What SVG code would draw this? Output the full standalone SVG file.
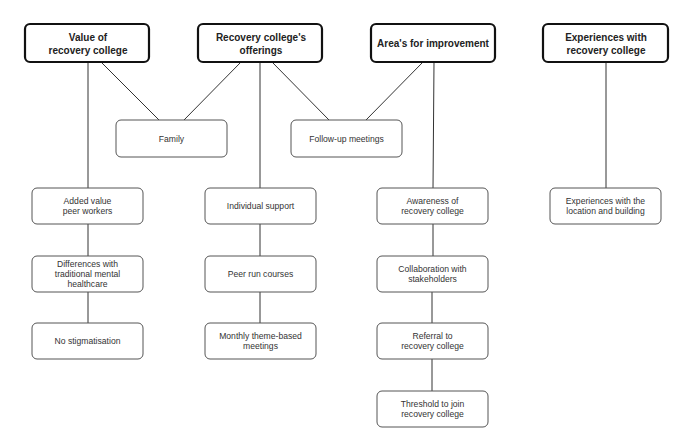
<svg xmlns="http://www.w3.org/2000/svg" width="685" height="437" viewBox="0 0 685 437">
<style>
.h rect{fill:#fff;stroke:#111;stroke-width:2.2}
.n rect{fill:#fff;stroke:#555;stroke-width:1}
.h text{font-family:"Liberation Sans",Arial,sans-serif;font-size:10px;font-weight:bold;fill:#222;text-anchor:middle}
.n text{font-family:"Liberation Sans",Arial,sans-serif;font-size:8.6px;fill:#333;text-anchor:middle}
#edges line{stroke:#333;stroke-width:1}
</style>
<rect width="685" height="437" fill="#fff"/>
<g id="edges">
<line x1="88" y1="62" x2="88" y2="188"/>
<line x1="88" y1="224" x2="88" y2="256"/>
<line x1="88" y1="292" x2="88" y2="323"/>
<line x1="101" y1="62" x2="159" y2="120"/>
<line x1="241" y1="62" x2="184" y2="120"/>
<line x1="260" y1="62" x2="260" y2="188"/>
<line x1="260" y1="224" x2="260" y2="256"/>
<line x1="260" y1="292" x2="260" y2="323"/>
<line x1="272" y1="62" x2="329" y2="120"/>
<line x1="423" y1="62" x2="366" y2="120"/>
<line x1="434" y1="62" x2="433" y2="188"/>
<line x1="433" y1="224" x2="433" y2="256"/>
<line x1="432" y1="292" x2="432" y2="323"/>
<line x1="432" y1="359" x2="432" y2="391"/>
<line x1="606" y1="62" x2="606" y2="188"/>
</g>
<g id="h1" class="h"><rect x="25" y="24" width="124" height="38" rx="5"/><text x="88" y="40.5">Value of</text><text x="88" y="53.5">recovery college</text></g>
<g id="h2" class="h"><rect x="198" y="24" width="124" height="38" rx="5"/><text x="261" y="40.5">Recovery college's</text><text x="261" y="53.5">offerings</text></g>
<g id="h3" class="h"><rect x="371" y="24" width="124" height="38" rx="5"/><text x="433" y="46.5">Area's for improvement</text></g>
<g id="h4" class="h"><rect x="543" y="24" width="125" height="38" rx="5"/><text x="606" y="40.5">Experiences with</text><text x="606" y="53.5">recovery college</text></g>
<g id="family" class="n"><rect x="116" y="120" width="111" height="37" rx="5"/><text x="171.5" y="141.5">Family</text></g>
<g id="followup" class="n"><rect x="291" y="120" width="111" height="37" rx="5"/><text x="346.5" y="141.5">Follow-up meetings</text></g>
<g id="a1" class="n"><rect x="32" y="188" width="111" height="36" rx="5"/><text x="87.5" y="204">Added value</text><text x="87.5" y="214">peer workers</text></g>
<g id="a2" class="n"><rect x="32" y="256" width="111" height="36" rx="5"/><text x="87.5" y="267">Differences with</text><text x="87.5" y="277">traditional mental</text><text x="87.5" y="287">healthcare</text></g>
<g id="a3" class="n"><rect x="32" y="323" width="111" height="36" rx="5"/><text x="87.5" y="344">No stigmatisation</text></g>
<g id="b1" class="n"><rect x="205" y="188" width="111" height="36" rx="5"/><text x="260.5" y="209">Individual support</text></g>
<g id="b2" class="n"><rect x="205" y="256" width="111" height="36" rx="5"/><text x="260.5" y="277">Peer run courses</text></g>
<g id="b3" class="n"><rect x="205" y="323" width="111" height="36" rx="5"/><text x="260.5" y="339">Monthly theme-based</text><text x="260.5" y="349">meetings</text></g>
<g id="c1" class="n"><rect x="377" y="188" width="111" height="36" rx="5"/><text x="432.5" y="204">Awareness of</text><text x="432.5" y="214">recovery college</text></g>
<g id="c2" class="n"><rect x="377" y="256" width="111" height="36" rx="5"/><text x="432.5" y="272">Collaboration with</text><text x="432.5" y="282">stakeholders</text></g>
<g id="c3" class="n"><rect x="377" y="323" width="111" height="36" rx="5"/><text x="432.5" y="339">Referral to</text><text x="432.5" y="349">recovery college</text></g>
<g id="c4" class="n"><rect x="377" y="391" width="111" height="36" rx="5"/><text x="432.5" y="407">Threshold to join</text><text x="432.5" y="417">recovery college</text></g>
<g id="d1" class="n"><rect x="550" y="188" width="111" height="36" rx="5"/><text x="605.5" y="204">Experiences with the</text><text x="605.5" y="214">location and building</text></g>
</svg>
